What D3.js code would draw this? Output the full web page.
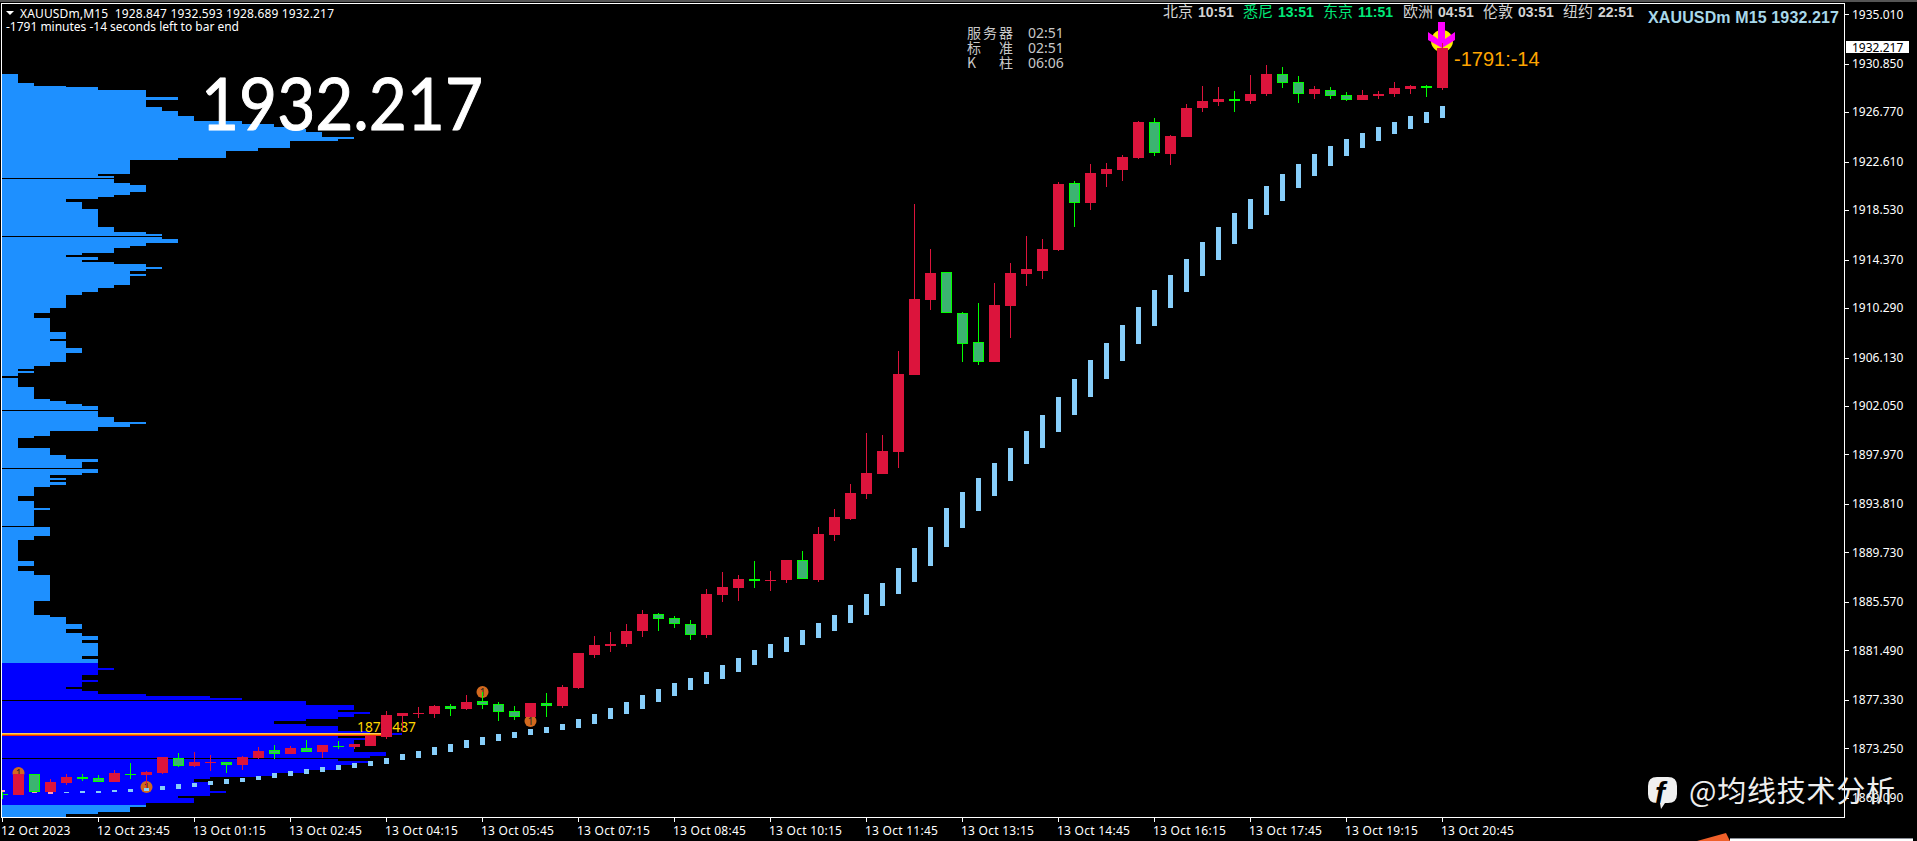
<!DOCTYPE html>
<html>
<head>
<meta charset="utf-8">
<title>XAUUSDm M15</title>
<script src="https://cdn.jsdelivr.net/npm/d3@7"></script>
<style>
  html, body { margin: 0; padding: 0; background: #000; overflow: hidden; }
  svg { display: block; }
  text { font-family: "Noto Sans", sans-serif; }
  .cjk { font-family: "Noto Sans CJK SC", sans-serif; }
</style>
</head>
<body>
<div id="chart"></div>
<script>
const priceTicks = [1935.01, 1930.85, 1926.77, 1922.61, 1918.53, 1914.37, 1910.29, 1906.13, 1902.05,
  1897.97, 1893.81, 1889.73, 1885.57, 1881.49, 1877.33, 1873.25, 1869.09];
const timeTickIndex = [0, 6, 12, 18, 24, 30, 36, 42, 48, 54, 60, 66, 72, 78, 84, 90];
const timeTickLabels = ['12 Oct 2023', '12 Oct 23:45', '13 Oct 01:15', '13 Oct 02:45', '13 Oct 04:15',
  '13 Oct 05:45', '13 Oct 07:15', '13 Oct 08:45', '13 Oct 10:15', '13 Oct 11:45', '13 Oct 13:15',
  '13 Oct 14:45', '13 Oct 16:15', '13 Oct 17:45', '13 Oct 19:15', '13 Oct 20:45'];

// one value per 15 minute bar
const opens = [1869.45, 1869.37, 1871.14, 1869.62, 1870.38, 1870.88, 1870.80, 1870.46, 1871.14, 1871.05,
  1871.22, 1872.48, 1871.81, 1872.06, 1872.15, 1871.89, 1872.48, 1873.16, 1872.82, 1873.32,
  1872.99, 1873.49, 1873.41, 1873.49, 1874.25, 1876.01, 1876.18, 1876.18, 1876.85, 1876.60,
  1877.27, 1877.02, 1876.43, 1875.93, 1877.11, 1876.85, 1878.37, 1881.14, 1881.90, 1882.07,
  1883.16, 1884.59, 1884.26, 1883.75, 1882.83, 1886.19, 1886.78, 1887.54, 1887.37, 1887.45,
  1889.13, 1887.45, 1891.24, 1892.58, 1894.68, 1896.37, 1898.22, 1904.70, 1911.01, 1913.37,
  1909.92, 1907.48, 1905.79, 1910.51, 1913.20, 1913.45, 1915.22, 1920.85, 1919.17, 1921.61,
  1921.95, 1922.96, 1925.98, 1923.29, 1924.72, 1927.16, 1927.67, 1927.92, 1927.75, 1928.34,
  1930.02, 1929.35, 1928.34, 1928.67, 1928.25, 1927.83, 1928.17, 1928.34, 1928.76, 1929.01, 1928.847];
const highs = [1869.79, 1871.14, 1871.14, 1870.72, 1871.14, 1871.14, 1871.05, 1871.47, 1872.06, 1871.39,
  1872.57, 1872.90, 1872.99, 1872.74, 1872.15, 1872.65, 1873.41, 1873.58, 1873.49, 1874.00,
  1873.58, 1873.91, 1873.66, 1874.33, 1876.43, 1876.26, 1876.77, 1876.94, 1877.02, 1877.78,
  1878.03, 1877.19, 1876.85, 1877.11, 1877.95, 1878.62, 1881.31, 1882.74, 1883.08, 1883.75,
  1884.93, 1884.68, 1884.42, 1884.09, 1886.70, 1888.13, 1887.87, 1889.05, 1888.21, 1889.13,
  1889.89, 1891.91, 1893.42, 1895.53, 1899.82, 1899.66, 1906.72, 1919.08, 1915.30, 1913.37,
  1910.00, 1910.76, 1912.44, 1914.12, 1916.39, 1916.14, 1920.94, 1921.02, 1922.45, 1922.53,
  1923.21, 1926.07, 1926.32, 1924.89, 1927.50, 1929.01, 1928.93, 1928.59, 1929.94, 1930.78,
  1930.61, 1929.85, 1929.01, 1928.93, 1928.51, 1928.67, 1928.59, 1929.35, 1929.10, 1929.10, 1932.593];
const lows = [1869.03, 1869.37, 1869.54, 1869.45, 1870.21, 1870.55, 1870.46, 1870.46, 1870.72, 1869.79,
  1871.14, 1871.73, 1871.73, 1871.39, 1871.22, 1871.47, 1872.40, 1872.40, 1872.82, 1872.99,
  1872.48, 1873.24, 1873.24, 1873.49, 1874.08, 1874.67, 1875.85, 1875.85, 1876.01, 1876.51,
  1876.60, 1875.59, 1875.68, 1875.93, 1875.93, 1876.68, 1878.29, 1880.89, 1881.40, 1881.82,
  1882.66, 1883.16, 1883.41, 1882.41, 1882.57, 1885.60, 1885.69, 1886.78, 1886.53, 1887.20,
  1887.54, 1887.29, 1890.73, 1892.50, 1894.26, 1896.37, 1896.87, 1904.70, 1910.17, 1909.92,
  1905.79, 1905.54, 1905.79, 1907.81, 1912.19, 1912.78, 1915.13, 1917.15, 1918.58, 1920.52,
  1921.02, 1922.87, 1923.12, 1922.37, 1924.72, 1926.83, 1927.33, 1926.83, 1927.50, 1928.17,
  1928.84, 1927.58, 1927.92, 1927.92, 1927.75, 1927.83, 1927.92, 1928.09, 1928.34, 1928.09, 1928.689];
const closes = [1869.37, 1871.14, 1869.62, 1870.46, 1870.88, 1870.72, 1870.46, 1871.22, 1871.05, 1871.31,
  1872.57, 1871.81, 1872.15, 1872.15, 1871.89, 1872.57, 1873.07, 1872.82, 1873.32, 1872.99,
  1873.58, 1873.41, 1873.66, 1874.33, 1876.10, 1876.26, 1876.26, 1876.85, 1876.60, 1877.19,
  1876.94, 1876.35, 1875.93, 1877.11, 1876.85, 1878.45, 1881.31, 1881.98, 1882.07, 1883.16,
  1884.59, 1884.17, 1883.75, 1882.83, 1886.27, 1886.86, 1887.54, 1887.37, 1887.45, 1889.13,
  1887.54, 1891.32, 1892.75, 1894.77, 1896.45, 1898.31, 1904.79, 1911.09, 1913.28, 1909.92,
  1907.31, 1905.79, 1910.59, 1913.28, 1913.62, 1915.30, 1920.77, 1919.17, 1921.69, 1922.03,
  1923.04, 1925.98, 1923.37, 1924.80, 1927.16, 1927.75, 1927.92, 1927.75, 1928.34, 1930.02,
  1929.26, 1928.34, 1928.76, 1928.17, 1927.83, 1928.25, 1928.34, 1928.84, 1929.01, 1928.84, 1932.217];

// light blue trailing indicator, null where the bar hides it
const trailHigh = [1869.79, null, 1869.62, 1869.62, 1869.62, 1869.71, 1869.71, 1869.79, 1869.88, 1869.96,
  1870.13, 1870.30, 1870.38, 1870.55, 1870.72, 1870.80, 1870.97, 1871.22, 1871.39, 1871.56,
  1871.73, 1871.89, 1872.06, 1872.23, 1872.48, 1872.82, 1873.07, 1873.41, 1873.66, 1874.00,
  1874.25, 1874.50, 1874.67, 1874.92, 1875.09, 1875.34, 1875.76, 1876.18, 1876.68, 1877.19,
  1877.78, 1878.29, 1878.79, 1879.21, 1879.72, 1880.31, 1880.89, 1881.57, 1882.07, 1882.66,
  1883.25, 1883.84, 1884.51, 1885.35, 1886.27, 1887.20, 1888.46, 1890.14, 1891.91, 1893.51,
  1894.85, 1896.03, 1897.30, 1898.56, 1899.99, 1901.33, 1902.85, 1904.37, 1905.96, 1907.39,
  1908.91, 1910.42, 1911.85, 1913.12, 1914.46, 1915.89, 1917.15, 1918.33, 1919.51, 1920.60,
  1921.61, 1922.45, 1923.29, 1923.97, 1924.55, 1925.06, 1925.56, 1925.98, 1926.49, 1926.83, 1927.33];
const trailLow = [1869.62, null, 1869.54, 1869.45, 1869.54, 1869.54, 1869.54, 1869.62, 1869.62, 1869.71,
  1869.79, 1869.88, 1870.04, 1870.21, 1870.30, 1870.46, 1870.63, 1870.80, 1870.97, 1871.14,
  1871.31, 1871.47, 1871.64, 1871.81, 1871.98, 1872.32, 1872.48, 1872.74, 1872.99, 1873.32,
  1873.58, 1873.91, 1874.17, 1874.42, 1874.58, 1874.84, 1875.00, 1875.34, 1875.76, 1876.18,
  1876.60, 1877.19, 1877.69, 1878.20, 1878.71, 1879.13, 1879.72, 1880.31, 1880.89, 1881.40,
  1881.98, 1882.57, 1883.16, 1883.84, 1884.51, 1885.27, 1886.27, 1887.29, 1888.63, 1890.23,
  1891.83, 1893.26, 1894.52, 1895.78, 1897.21, 1898.56, 1899.91, 1901.33, 1902.85, 1904.37,
  1905.88, 1907.31, 1908.82, 1910.34, 1911.68, 1913.03, 1914.37, 1915.72, 1916.98, 1918.16,
  1919.34, 1920.43, 1921.44, 1922.28, 1923.12, 1923.80, 1924.39, 1924.97, 1925.40, 1925.90, 1926.32];

// market profile: top price of each run and how many bars traded there
const profilePrice = [1930.02, 1929.26, 1929.01, 1928.93, 1928.67, 1928.09, 1927.83, 1927.25, 1926.91, 1926.49,
  1926.07, 1925.82, 1925.56, 1925.39, 1925.14, 1924.72, 1924.55, 1924.39, 1923.80, 1923.54,
  1922.96, 1922.79, 1921.61, 1921.44, 1921.27, 1921.19, 1920.85, 1920.68, 1920.10, 1919.84,
  1919.67, 1919.51, 1919.25, 1918.67, 1917.15, 1916.73, 1916.56, 1916.39, 1916.31, 1916.14,
  1915.80, 1915.55, 1915.38, 1914.96, 1914.79, 1914.63, 1914.37, 1914.21, 1914.04, 1913.79,
  1913.62, 1913.45, 1913.20, 1913.03, 1912.27, 1912.02, 1911.68, 1911.43, 1910.34, 1909.92,
  1909.50, 1908.32, 1907.73, 1907.56, 1906.97, 1906.55, 1905.79, 1905.46, 1905.20, 1905.04,
  1904.87, 1904.62, 1904.45, 1903.69, 1902.68, 1902.51, 1902.26, 1902.09, 1901.76, 1901.67,
  1901.17, 1900.75, 1900.58, 1900.33, 1899.99, 1899.57, 1899.40, 1898.56, 1897.97, 1897.63,
  1897.38, 1896.87, 1896.79, 1896.45, 1896.29, 1896.03, 1895.87, 1895.70, 1895.45, 1895.28,
  1894.52, 1894.10, 1893.51, 1893.34, 1891.99, 1891.91, 1891.15, 1890.82, 1889.05, 1888.63,
  1888.21, 1887.87, 1885.69, 1884.51, 1884.34, 1883.75, 1883.33, 1882.99, 1882.74, 1882.41,
  1882.15, 1881.06, 1880.81, 1880.47, 1880.05, 1879.88, 1879.46, 1879.04, 1878.87, 1878.45,
  1878.29, 1878.12, 1877.87, 1877.69, 1877.53, 1877.36, 1877.27, 1876.94, 1876.51, 1876.35,
  1876.18, 1875.93, 1875.76, 1875.59, 1875.34, 1875.17, 1874.75, 1874.58, 1874.42, 1874.17,
  1874.00, 1872.99, 1872.65, 1872.48, 1872.40, 1872.23, 1872.06, 1871.89, 1871.47, 1871.22,
  1870.97, 1870.88, 1870.72, 1870.46, 1869.71, 1869.54, 1869.29, 1869.12, 1868.70, 1868.53,
  1868.36, 1867.94, 1867.77];
const profileBars = [1, 2, 4, 6, 9, 11, 9, 10, 11, 12,
  15, 17, 18, 19, 20, 22, 21, 18, 16, 14,
  11, 8, 6, 7, 0, 7, 8, 9, 8, 7,
  6, 4, 5, 6, 7, 9, 10, 0, 10, 11,
  9, 8, 7, 5, 4, 6, 5, 7, 9, 10,
  9, 8, 9, 8, 7, 6, 5, 4, 3, 2,
  3, 4, 3, 4, 5, 4, 3, 2, 1, 2,
  1, 0, 1, 2, 3, 4, 5, 6, 0, 6,
  7, 9, 8, 6, 3, 2, 1, 3, 4, 6,
  5, 0, 6, 5, 3, 4, 3, 4, 3, 2,
  1, 2, 3, 2, 0, 3, 2, 1, 2, 1,
  2, 3, 2, 3, 4, 5, 4, 5, 6, 5,
  6, 5, 6, 6, 7, 6, 5, 6, 5, 4,
  5, 6, 9, 13, 15, 0, 19, 22, 21, 23,
  22, 21, 19, 17, 19, 21, 23, 25, 21, 23,
  22, 24, 23, 0, 21, 23, 22, 21, 19, 17,
  16, 13, 12, 13, 14, 13, 11, 12, 9, 9,
  8, 6, 4];
const profileBottom = 1867.52;
const valueAreaHigh = 1880.47;
const valueAreaLow = 1868.53;
const pointOfControl = 1874.487;

const signalIndex = [1, 9, 30, 33];
const signalPrice = [1871.22, 1870.04, 1878.03, 1875.59];

const lastPrice = 1932.217;
const clockCities = ['北京', '悉尼', '东京', '欧洲', '伦敦', '纽约'];
const clockTimes = ['10:51', '13:51', '11:51', '04:51', '03:51', '22:51'];
const clockColors = ['#d3d3d3', '#00e878', '#00e878', '#d3d3d3', '#d3d3d3', '#d3d3d3'];
const serverRows = [['服务器', '02:51'], ['标', '02:51'], ['K', '06:06']];

const width = 1917;
const height = 841;
const plotRight = 1844;
const plotBottom = 817;

const svg = d3.select('#chart')
  .append('svg')
  .attr('width', width)
  .attr('height', height)
  .style('background', '#000');

const x = d3.scaleLinear().domain([0, 90]).range([2, 1442]);
const y = d3.scaleLinear().domain([1869.09, 1935.01]).range([798.3, 14.7]);
const py = p => Math.round(y(p));

svg.append('clipPath').attr('id', 'plot')
  .append('rect')
  .attr('x', 2).attr('y', 4)
  .attr('width', plotRight - 2).attr('height', plotBottom - 4);

const g = svg.append('g').attr('clip-path', 'url(#plot)');

// market profile
const profile = profilePrice.map((p, i) => ({
  top: p,
  bottom: i + 1 < profilePrice.length ? profilePrice[i + 1] : profileBottom,
  bars: profileBars[i]
}));

g.append('g')
  .attr('shape-rendering', 'crispEdges')
  .selectAll('rect')
  .data(profile.filter(d => d.bars > 0))
  .join('rect')
  .attr('x', 2)
  .attr('y', d => py(d.top))
  .attr('width', d => x(d.bars) - 2)
  .attr('height', d => py(d.bottom) - py(d.top))
  .attr('fill', d => (d.top <= valueAreaHigh && d.top > valueAreaLow) ? '#0000ff' : '#1e90ff');

// point of control
const pocY = py(pointOfControl);
[['#ffc860', -1], ['#ff9a00', 0], ['#f02a10', 1]].forEach(([c, dy]) => {
  g.append('rect')
    .attr('x', 2).attr('y', pocY + dy)
    .attr('width', x(23.7) - 2).attr('height', 1)
    .attr('fill', c)
    .attr('shape-rendering', 'crispEdges');
});

g.append('text')
  .attr('x', 357)
  .attr('y', pocY - 2)
  .attr('font-size', 15)
  .attr('textLength', 59)
  .attr('lengthAdjust', 'spacingAndGlyphs')
  .attr('fill', '#ffd700')
  .text(pointOfControl.toFixed(3));

// signal dots
const signals = g.append('g')
  .selectAll('g')
  .data(signalIndex.map((d, i) => ({ i: d, p: signalPrice[i] })))
  .join('g')
  .attr('transform', d => `translate(${x(d.i) + 0.5},${y(d.p)})`);

signals.append('circle').attr('r', 6).attr('fill', '#d2691e');
signals.append('text')
  .attr('text-anchor', 'middle')
  .attr('dy', 4)
  .attr('font-size', 10)
  .attr('fill', '#222')
  .text('1');

// last bar arrow
const arrowX = x(90);
g.append('circle')
  .attr('cx', arrowX).attr('cy', y(1932.8))
  .attr('r', 11)
  .attr('fill', '#ffee00');
g.append('path')
  .attr('transform', `translate(${arrowX},${py(lastPrice)})`)
  .attr('d', 'M-4,-26 H3 V-9 L13,-16 V-8 L0,0 L-14,-8 V-16 L-4,-9 Z')
  .attr('fill', '#ff00ff');

// candles
const candles = d3.range(opens.length).map(i => ({
  i, o: opens[i], h: highs[i], l: lows[i], c: closes[i]
}));
const up = d => d.c >= d.o;
const candleG = g.append('g').attr('shape-rendering', 'crispEdges');

candleG.selectAll('.wick')
  .data(candles)
  .join('rect')
  .attr('class', 'wick')
  .attr('x', d => x(d.i))
  .attr('width', 1)
  .attr('y', d => py(d.h))
  .attr('height', d => Math.max(1, py(d.l) - py(d.h)))
  .attr('fill', d => up(d) ? '#dc143c' : '#00ff00');

candleG.selectAll('.body')
  .data(candles)
  .join('rect')
  .attr('class', 'body')
  .attr('x', d => x(d.i) - 5)
  .attr('width', 11)
  .attr('y', d => py(Math.max(d.o, d.c)))
  .attr('height', d => Math.max(1, py(Math.min(d.o, d.c)) - py(Math.max(d.o, d.c))))
  .attr('fill', d => up(d) ? '#dc143c' : '#00ff00');

candleG.selectAll('.inner')
  .data(candles.filter(d => !up(d) && py(d.c) - py(d.o) > 2))
  .join('rect')
  .attr('class', 'inner')
  .attr('x', d => x(d.i) - 4)
  .attr('width', 9)
  .attr('y', d => py(d.o) + 1)
  .attr('height', d => py(d.c) - py(d.o) - 2)
  .attr('fill', '#3cb371');

// trail bars
g.append('g')
  .attr('shape-rendering', 'crispEdges')
  .selectAll('rect')
  .data(d3.range(trailHigh.length).filter(i => trailHigh[i] !== null))
  .join('rect')
  .attr('x', i => x(i) - 2)
  .attr('width', 5)
  .attr('y', i => py(trailHigh[i]))
  .attr('height', i => Math.max(1, py(trailLow[i]) - py(trailHigh[i])))
  .attr('fill', i => i < 4 ? '#ff9db5' : '#87cefa');

// frame
svg.append('rect').attr('x', 0).attr('y', 0).attr('width', width).attr('height', 2).attr('fill', '#555');
svg.append('rect')
  .attr('x', 1.5).attr('y', 3.5)
  .attr('width', plotRight - 1).attr('height', plotBottom - 3)
  .attr('fill', 'none')
  .attr('stroke', '#fff')
  .attr('shape-rendering', 'crispEdges');

// axes
const yAxis = d3.axisRight(y)
  .tickValues(priceTicks)
  .tickSize(4)
  .tickPadding(3)
  .offset(0)
  .tickFormat(d3.format('.3f'));
const yAxisG = svg.append('g')
  .attr('transform', `translate(${plotRight + 1},0)`)
  .call(yAxis);

const labelByIndex = new Map(timeTickIndex.map((d, i) => [d, timeTickLabels[i]]));
const xAxis = d3.axisBottom(x)
  .tickValues(timeTickIndex)
  .tickSize(4)
  .tickPadding(4)
  .offset(0)
  .tickFormat(d => labelByIndex.get(d));
const xAxisG = svg.append('g')
  .attr('transform', `translate(0,${plotBottom + 1})`)
  .call(xAxis);

[yAxisG, xAxisG].forEach(a => {
  a.select('.domain').remove();
  a.selectAll('line').attr('stroke', '#fff').attr('shape-rendering', 'crispEdges');
  a.selectAll('text')
    .attr('fill', '#fff')
    .attr('font-size', 12)
    .style('font-family', '"Noto Sans", sans-serif');
});
xAxisG.selectAll('text')
  .attr('text-anchor', 'start')
  .attr('dx', -1)
  .style('letter-spacing', '0.25px');

// last price box
svg.append('rect')
  .attr('x', 1846).attr('y', py(lastPrice) - 7)
  .attr('width', 63).attr('height', 12)
  .attr('fill', '#fff');
svg.append('text')
  .attr('x', 1852).attr('y', py(lastPrice) + 4)
  .attr('font-size', 12)
  .attr('fill', '#000')
  .text(lastPrice.toFixed(3));

// top left header
svg.append('path').attr('d', 'M6,11 H14 L10,15 Z').attr('fill', '#fff');
svg.append('text')
  .attr('x', 20).attr('y', 17.5)
  .attr('font-size', 12)
  .attr('textLength', 314)
  .attr('xml:space', 'preserve')
  .attr('fill', '#fff')
  .text('XAUUSDm,M15  1928.847 1932.593 1928.689 1932.217');
svg.append('text')
  .attr('x', 6).attr('y', 31)
  .attr('font-size', 12)
  .attr('textLength', 233)
  .attr('fill', '#fff')
  .text('-1791 minutes -14 seconds left to bar end');

svg.append('text')
  .attr('x', 201).attr('y', 130)
  .attr('font-size', 72)
  .attr('textLength', 282)
  .attr('lengthAdjust', 'spacingAndGlyphs')
  .attr('fill', '#fff')
  .attr('stroke', '#fff')
  .attr('stroke-linejoin', 'round')
  .style('font-family', '"Comic Sans MS", Lato, sans-serif')
  .text(lastPrice.toFixed(3));

// world clocks
clockCities.forEach((c, i) => {
  svg.append('text')
    .attr('class', 'cjk')
    .attr('x', 1163 + i * 80).attr('y', 17)
    .attr('font-size', 15)
    .attr('fill', clockColors[i])
    .text(c);
  svg.append('text')
    .attr('x', 1198 + i * 80).attr('y', 17)
    .attr('font-size', 14)
    .attr('font-weight', 'bold')
    .attr('fill', clockColors[i])
    .style('font-family', '"Liberation Sans", sans-serif')
    .text(clockTimes[i]);
});

serverRows.forEach((r, i) => {
  const rowY = 38 + i * 15;
  svg.append('text')
    .attr('class', 'cjk')
    .attr('x', 967).attr('y', rowY)
    .attr('font-size', 14)
    .attr('letter-spacing', 2)
    .attr('fill', '#c8c8c8')
    .text(r[0]);
  svg.append('text')
    .attr('x', 1028).attr('y', rowY)
    .attr('font-size', 14)
    .attr('fill', '#c8c8c8')
    .text(r[1]);
});
svg.append('text').attr('class', 'cjk').attr('x', 999).attr('y', 53).attr('font-size', 14).attr('fill', '#c8c8c8').text('准');
svg.append('text').attr('class', 'cjk').attr('x', 999).attr('y', 68).attr('font-size', 14).attr('fill', '#c8c8c8').text('柱');

svg.append('text')
  .attr('x', 1648).attr('y', 23)
  .attr('font-size', 16)
  .attr('font-weight', 'bold')
  .attr('textLength', 191)
  .attr('fill', '#a8d8ea')
  .style('font-family', '"Liberation Sans", sans-serif')
  .text('XAUUSDm M15 1932.217');

svg.append('text')
  .attr('x', 1454).attr('y', 66)
  .attr('font-size', 20)
  .attr('fill', '#ffa500')
  .style('font-family', '"Liberation Sans", sans-serif')
  .text('-1791:-14');

// watermark
svg.append('path')
  .attr('d', 'M1657,777 H1668 Q1677,777 1677,786 V794 Q1677,803 1668,803 H1665 L1661,809 L1660,803 H1657 Q1648,803 1648,794 V786 Q1648,777 1657,777 Z')
  .attr('fill', '#f0f0f0');
svg.append('text')
  .attr('x', 1655).attr('y', 803)
  .attr('font-size', 30)
  .attr('font-weight', 'bold')
  .attr('font-style', 'italic')
  .attr('fill', '#000')
  .style('font-family', '"Liberation Sans", sans-serif')
  .text('f');
svg.append('text')
  .attr('class', 'cjk')
  .attr('x', 1689).attr('y', 802)
  .attr('font-size', 29)
  .attr('textLength', 206)
  .attr('fill', '#eeeeee')
  .text('@均线技术分析');

// scrap of the next window along the bottom edge
svg.append('path').attr('d', 'M1697,841 L1726,833 L1730,841 Z').attr('fill', '#f0602a');
svg.append('rect').attr('x', 1730).attr('y', 838).attr('width', 183).attr('height', 1).attr('fill', '#8a8f98');
svg.append('rect').attr('x', 1730).attr('y', 839).attr('width', 183).attr('height', 2).attr('fill', '#fff');
</script>
</body>
</html>
